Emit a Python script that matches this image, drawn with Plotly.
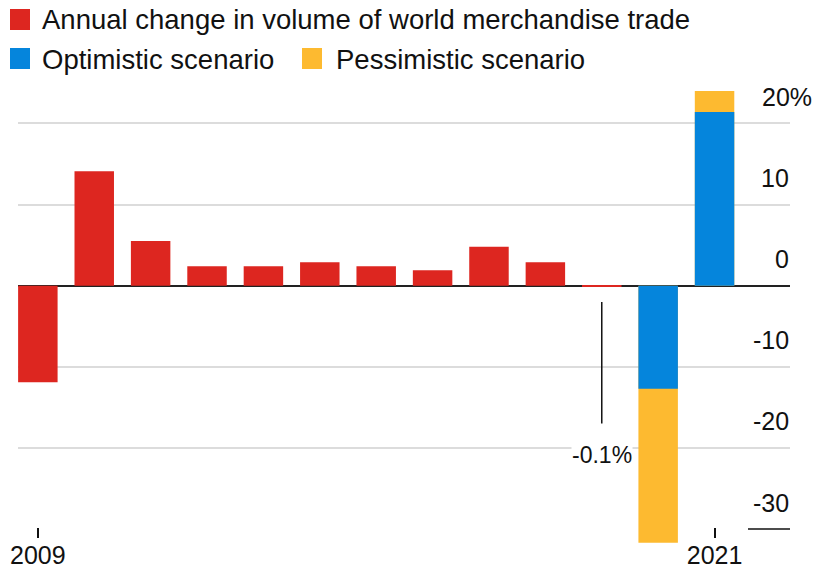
import plotly.graph_objects as go

# ---- data ----
years = [2009, 2010, 2011, 2012, 2013, 2014, 2015, 2016, 2017, 2018, 2019]
annual_change = [-11.9, 14.1, 5.5, 2.4, 2.4, 2.9, 2.4, 1.9, 4.8, 2.9, -0.1]
scenario_years = [2020, 2021]
optimistic = [-12.7, 21.4]
pessimistic = [-31.7, 24.0]
ytick_vals = [20, 10, 0, -10, -20, -30]
ytick_text = ["20%", "10", "0", "-10", "-20", "-30"]
xtick_vals = [2009, 2021]
xtick_text = ["2009", "2021"]
legend_labels = ["Annual change in volume of world merchandise trade",
                 "Optimistic scenario", "Pessimistic scenario"]
callout_year = 2019
callout_text = "-0.1%"

RED = "#dd2620"
BLUE = "#0585dc"
YELLOW = "#fdba30"
GRID = "#dcdcdc"
FONT = "Liberation Sans, Arial, Helvetica, sans-serif"
TXT = "#111111"

W, H = 819, 570
ML, MR, MT, MB = 18, 29, 80, 25
PW, PH = W - ML - MR, H - MT - MB


def px(x):
    return (x - ML) / PW


def py(y):
    return (H - MB - y) / PH


fig = go.Figure()
fig.add_trace(go.Bar(x=years, y=annual_change, marker=dict(color=RED, line=dict(width=0)),
                     width=0.7, showlegend=False, name=legend_labels[0]))
fig.add_trace(go.Bar(x=scenario_years, y=pessimistic, marker=dict(color=YELLOW, line=dict(width=0)),
                     width=0.7, showlegend=False, name=legend_labels[2]))
fig.add_trace(go.Bar(x=scenario_years, y=optimistic, marker=dict(color=BLUE, line=dict(width=0)),
                     width=0.7, showlegend=False, name=legend_labels[1]))

shapes = []
annotations = []

# -30 short black rule in label area
shapes.append(dict(type="line", xref="paper", yref="y", x0=px(748), x1=1, y0=-30, y1=-30,
                   line=dict(color="#111", width=1.5)))

# y tick labels sitting above gridlines
for v, t in zip(ytick_vals, ytick_text):
    annotations.append(dict(x=1, xref="paper", y=v, yref="y", text=t, showarrow=False,
                            xanchor="right", yanchor="middle",
                            xshift=24 if t.endswith("%") else 1, yshift=26.5,
                            font=dict(size=25, color=TXT, family=FONT)))

# callout for 2019
shapes.append(dict(type="line", xref="x", yref="y", x0=callout_year, x1=callout_year,
                   y0=-2.0, y1=-17.0, line=dict(color="#111", width=1.5)))
annotations.append(dict(x=callout_year, xref="x", y=-20.9, yref="y", text=callout_text,
                        showarrow=False, xanchor="center", yanchor="middle",
                        bgcolor="white", borderpad=0,
                        font=dict(size=23, color=TXT, family=FONT)))

# manual legend
leg = [(RED, 10, 9, 40, 20, legend_labels[0]),
       (BLUE, 10, 48, 40, 59, legend_labels[1]),
       (YELLOW, 302, 48, 334, 59, legend_labels[2])]
for col, sx, sy, tx, ty, lab in leg:
    shapes.append(dict(type="rect", xref="paper", yref="paper",
                       x0=px(sx), x1=px(sx + 20), y0=py(sy), y1=py(sy + 21),
                       fillcolor=col, line=dict(width=0)))
    annotations.append(dict(x=px(tx), xref="paper", y=py(ty), yref="paper", text=lab,
                            showarrow=False, xanchor="left", yanchor="middle",
                            font=dict(size=27.5, color=TXT, family=FONT)))

fig.update_layout(
    width=W, height=H,
    margin=dict(l=ML, r=MR, t=MT, b=MB),
    paper_bgcolor="white", plot_bgcolor="white",
    barmode="overlay",
    showlegend=False,
    shapes=shapes,
    annotations=annotations,
    font=dict(family=FONT, color=TXT, size=25),
    xaxis=dict(range=[2008.648, 2022.338], tickvals=xtick_vals, ticktext=xtick_text,
               ticks="inside", ticklen=10, tickwidth=1.5, tickcolor="#111",
               showgrid=False, zeroline=False, showline=False,
               anchor="free", position=7 / PH, automargin=False,
               tickfont=dict(size=25, color=TXT, family=FONT)),
    yaxis=dict(range=[-31.97, 25.36], tickvals=[v for v in ytick_vals if v != -30],
               showticklabels=False, showgrid=True, gridcolor=GRID, gridwidth=2,
               zeroline=True, zerolinecolor="#222", zerolinewidth=2,
               showline=False, ticks="", automargin=False),
)

fig.write_html("out.html", config={"displayModeBar": False},
               post_script="document.body.style.margin='0';")
